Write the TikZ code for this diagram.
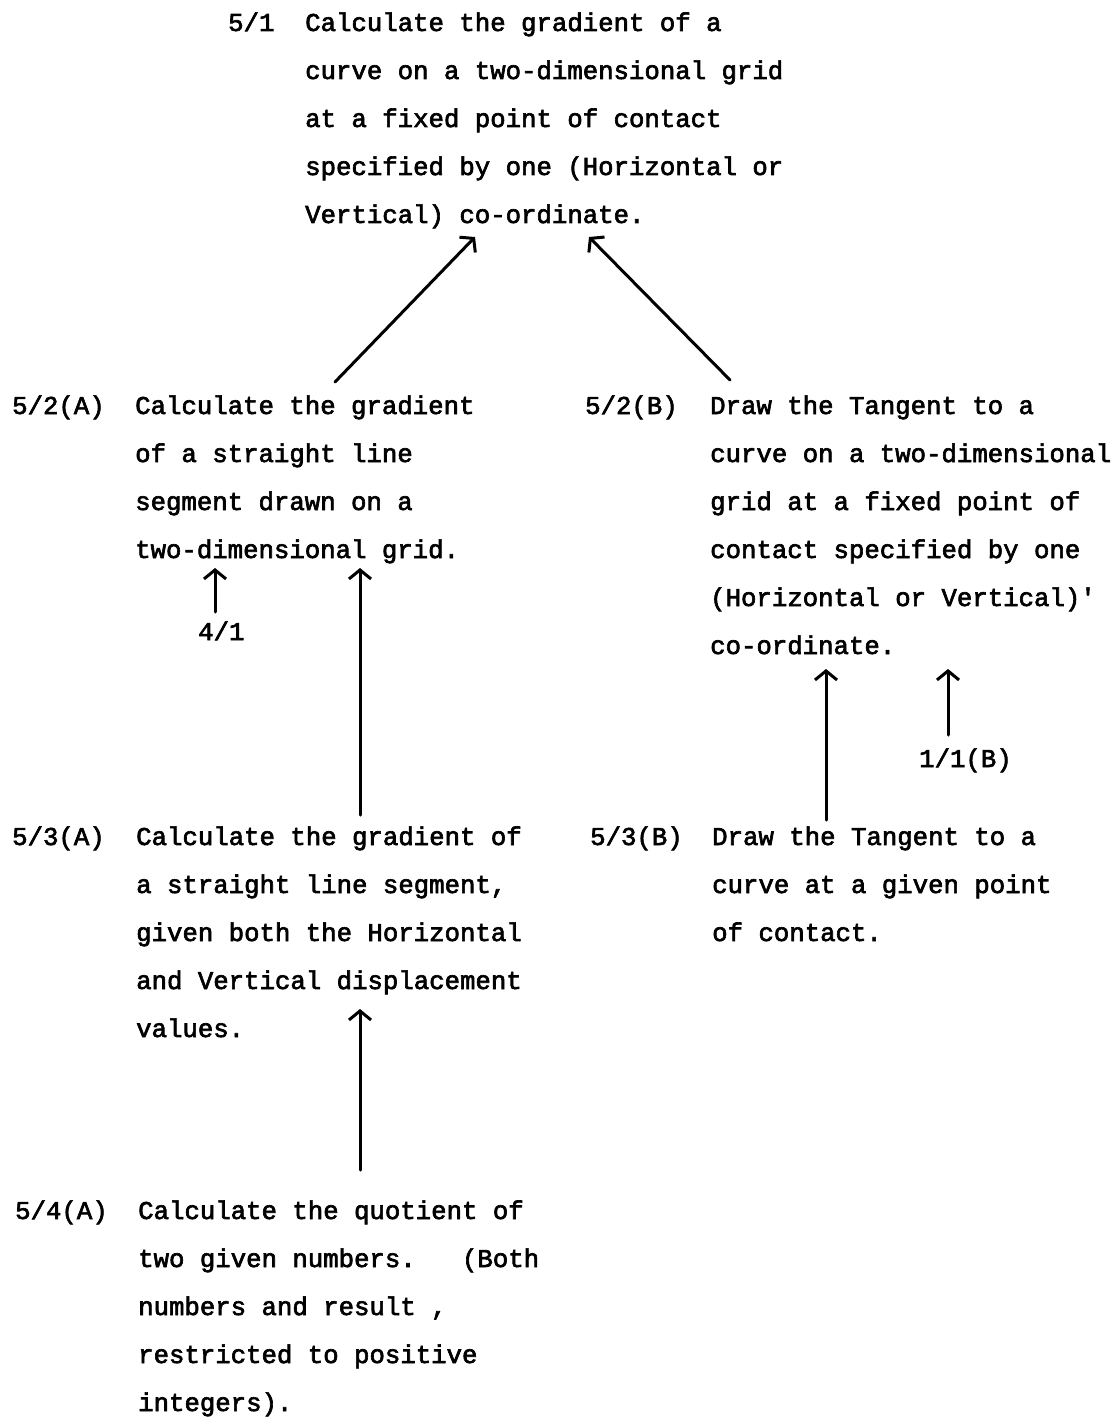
\documentclass[tikz,border=0pt]{standalone}
\usepackage{fontspec}
\newfontfamily\typewriter[FakeBold=2.5]{Liberation Mono}
\usetikzlibrary{arrows.meta}

% a block of typed lines; its baseline is that of the first line
\newcommand\typedlines[1]{\vtop{\baselineskip=48pt\lineskiplimit=-100pt #1}}
\newcommand\tl[1]{\hbox{#1}}

\begin{document}
\begin{tikzpicture}[x=1pt,y=-1pt,
  txt/.style={anchor=base west, inner sep=0pt,
              font=\typewriter\fontsize{25.7}{48}\selectfont},
  arr/.style={-{Straight Barb[length=9pt,width=22pt,line width=3pt]},
              line width=3pt, line cap=round}]
\useasboundingbox (0,0) rectangle (1117,1423);

% objective 5/1
\node[txt] (l51) at (228,31) {5/1};
\node[txt] (t51) at (305,31) {\typedlines{%
  \tl{Calculate the gradient of a}%
  \tl{curve on a two-dimensional grid}%
  \tl{at a fixed point of contact}%
  \tl{specified by one (Horizontal or}%
  \tl{Vertical) co-ordinate.}}};

% objective 5/2(A)
\node[txt] (l52a) at (12,414) {5/2(A)};
\node[txt] (t52a) at (135,414) {\typedlines{%
  \tl{Calculate the gradient}%
  \tl{of a straight line}%
  \tl{segment drawn on a}%
  \tl{two-dimensional grid.}}};
\node[txt] (l41) at (198,640) {4/1};

% objective 5/2(B)
\node[txt] (l52b) at (585,414) {5/2(B)};
\node[txt] (t52b) at (710,414) {\typedlines{%
  \tl{Draw the Tangent to a}%
  \tl{curve on a two-dimensional}%
  \tl{grid at a fixed point of}%
  \tl{contact specified by one}%
  \tl{(Horizontal or Vertical)'}%
  \tl{co-ordinate.}}};
\node[txt] (l11b) at (919,767) {1/1(B)};

% objective 5/3(A)
\node[txt] (l53a) at (12,845) {5/3(A)};
\node[txt] (t53a) at (136,845) {\typedlines{%
  \tl{Calculate the gradient of}%
  \tl{a straight line segment,}%
  \tl{given both the Horizontal}%
  \tl{and Vertical displacement}%
  \tl{values.}}};

% objective 5/3(B)
\node[txt] (l53b) at (590,845) {5/3(B)};
\node[txt] (t53b) at (712,845) {\typedlines{%
  \tl{Draw the Tangent to a}%
  \tl{curve at a given point}%
  \tl{of contact.}}};

% objective 5/4(A)
\node[txt] (l54a) at (15,1219) {5/4(A)};
\node[txt] (t54a) at (138,1219) {\typedlines{%
  \tl{Calculate the quotient of}%
  \tl{two given numbers.\ \ \ (Both}%
  \tl{numbers and result ,}%
  \tl{restricted to positive}%
  \tl{integers).}}};

% connector end points
\coordinate (a1s) at (335,382);  \coordinate (a1e) at (475,237);
\coordinate (a2s) at (730,380);  \coordinate (a2e) at (589,237);
\coordinate (a3s) at (215,612);  \coordinate (a3e) at (215,568);
\coordinate (a4s) at (360,815);  \coordinate (a4e) at (360,568);
\coordinate (a5s) at (826,820);  \coordinate (a5e) at (826,669);
\coordinate (a6s) at (948,735);  \coordinate (a6e) at (948,669);
\coordinate (a7s) at (360,1170); \coordinate (a7e) at (360,1009);

% prerequisite arrows
\draw[arr] (a1s) -- (a1e);
\draw[arr] (a2s) -- (a2e);
\draw[arr] (a3s) -- (a3e);
\draw[arr] (a4s) -- (a4e);
\draw[arr] (a5s) -- (a5e);
\draw[arr] (a6s) -- (a6e);
\draw[arr] (a7s) -- (a7e);
\end{tikzpicture}
\end{document}
